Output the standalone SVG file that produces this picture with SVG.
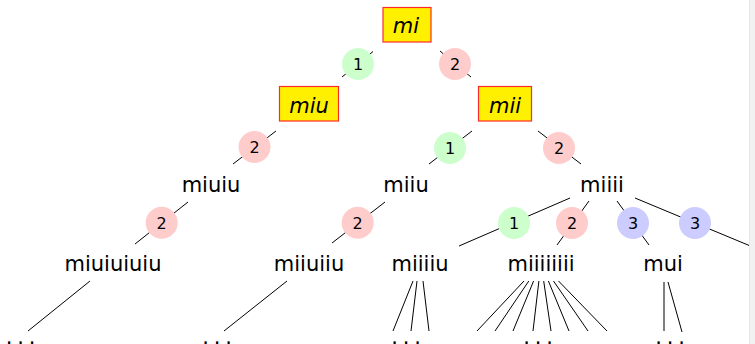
<svg xmlns="http://www.w3.org/2000/svg" width="755" height="344" viewBox="0 0 755 344">
<style>
.bg{fill:#ffffff}
.e{stroke:#000;stroke-width:1;fill:none}
.t{font-family:"DejaVu Sans",sans-serif;font-size:21px;fill:#000;text-anchor:middle}
.bt{font-family:"DejaVu Sans",sans-serif;font-size:21px;font-style:italic;fill:#000;text-anchor:middle}
.box{fill:#fff000;stroke:#ff2a2a;stroke-width:1.2}
.n{font-family:"DejaVu Sans",sans-serif;font-size:16px;fill:#000;text-anchor:middle}
.g{fill:#ccffcc}
.r{fill:#ffcccc}
.b{fill:#ccccff}
.d{font-family:"DejaVu Sans",sans-serif;font-size:21px;fill:#000;text-anchor:middle}
</style>
<rect class="bg" x="0" y="0" width="755" height="344"/>
<g id="connectors">
<line class="e" x1="373" y1="51.5" x2="342" y2="77"/>
<line class="e" x1="440" y1="51" x2="471" y2="77"/>
<line class="e" x1="276" y1="131" x2="233" y2="164"/>
<line class="e" x1="188" y1="202" x2="135" y2="244"/>
<line class="e" x1="472" y1="131" x2="429" y2="164"/>
<line class="e" x1="538" y1="131" x2="581" y2="164"/>
<line class="e" x1="385" y1="202" x2="332" y2="243"/>
<line class="e" x1="570" y1="198" x2="459" y2="246"/>
<line class="e" x1="589" y1="201" x2="557" y2="245"/>
<line class="e" x1="617" y1="201" x2="649" y2="245"/>
<line class="e" x1="635" y1="198" x2="760" y2="250"/>
<line class="e" x1="90" y1="281" x2="28" y2="331"/>
<line class="e" x1="287" y1="281" x2="224" y2="331"/>
<line class="e" x1="413" y1="281" x2="393" y2="331"/>
<line class="e" x1="417" y1="281" x2="411" y2="331"/>
<line class="e" x1="423" y1="281" x2="429" y2="331"/>
<line class="e" x1="524" y1="281" x2="477" y2="331"/>
<line class="e" x1="528.8" y1="281" x2="495" y2="331"/>
<line class="e" x1="533.6" y1="281" x2="513" y2="331"/>
<line class="e" x1="538.9" y1="281" x2="533" y2="331"/>
<line class="e" x1="543.7" y1="281" x2="551" y2="331"/>
<line class="e" x1="548.4" y1="281" x2="569" y2="331"/>
<line class="e" x1="553.5" y1="281" x2="588" y2="331"/>
<line class="e" x1="558.5" y1="281" x2="607" y2="331"/>
<line class="e" x1="664" y1="282" x2="664" y2="331"/>
<line class="e" x1="668" y1="282" x2="682" y2="332"/>
</g>
<g id="labels">
<g id="l1"><circle class="g" cx="358" cy="64" r="16"/><text class="n" x="358" y="70">1</text></g>
<g id="l2"><circle class="r" cx="455" cy="64" r="16"/><text class="n" x="455" y="70">2</text></g>
<g id="l3"><circle class="r" cx="254.5" cy="147" r="16"/><text class="n" x="254.5" y="153">2</text></g>
<g id="l4"><circle class="r" cx="161.7" cy="222.7" r="16"/><text class="n" x="161.7" y="228.7">2</text></g>
<g id="l5"><circle class="g" cx="450" cy="148" r="16"/><text class="n" x="450" y="154">1</text></g>
<g id="l6"><circle class="r" cx="559" cy="148" r="16"/><text class="n" x="559" y="154">2</text></g>
<g id="l7"><circle class="r" cx="357.7" cy="222.7" r="16"/><text class="n" x="357.7" y="228.7">2</text></g>
<g id="l8"><circle class="g" cx="514" cy="223" r="16"/><text class="n" x="514" y="229">1</text></g>
<g id="l9"><circle class="r" cx="572" cy="223" r="16"/><text class="n" x="572" y="229">2</text></g>
<g id="l10"><circle class="b" cx="633" cy="223" r="16"/><text class="n" x="633" y="229">3</text></g>
<g id="l11"><circle class="b" cx="695" cy="223" r="16"/><text class="n" x="695" y="229">3</text></g>
</g>
<g id="node-mi"><rect class="box" x="383" y="7.5" width="48" height="34.5"/><text class="bt" x="406" y="33">mi</text></g>
<g id="node-miu"><rect class="box" x="279.5" y="86.5" width="59" height="34.5"/><text class="bt" x="309" y="113">miu</text></g>
<g id="node-mii"><rect class="box" x="478.5" y="86.5" width="53" height="34.5"/><text class="bt" x="505" y="113">mii</text></g>
<g id="node-miuiu"><text class="t" x="211" y="192">miuiu</text></g>
<g id="node-miiu"><text class="t" x="406" y="192">miiu</text></g>
<g id="node-miiii"><text class="t" x="602" y="192">miiii</text></g>
<g id="node-miuiuiuiu"><text class="t" x="113" y="271">miuiuiuiu</text></g>
<g id="node-miiuiiu"><text class="t" x="309" y="271">miiuiiu</text></g>
<g id="node-miiiiu"><text class="t" x="420" y="271">miiiiu</text></g>
<g id="node-miiiiiiii"><text class="t" x="541" y="271">miiiiiiii</text></g>
<g id="node-mui"><text class="t" x="663" y="271">mui</text></g>
<g id="node-d1"><text class="d" x="9 20.5 32" y="344">...</text></g>
<g id="node-d2"><text class="d" x="205.5 217 228.5" y="344">...</text></g>
<g id="node-d3"><text class="d" x="394.5 406 417.5" y="344">...</text></g>
<g id="node-d4"><text class="d" x="526.5 538 549.5" y="344">...</text></g>
<g id="node-d5"><text class="d" x="658.5 670 681.5" y="344">...</text></g>
<rect x="749" y="0" width="6" height="344" fill="#f1f1f1"/>
<line x1="749.5" y1="0" x2="749.5" y2="344" stroke="#e6e6e6" stroke-width="1"/>
</svg>
